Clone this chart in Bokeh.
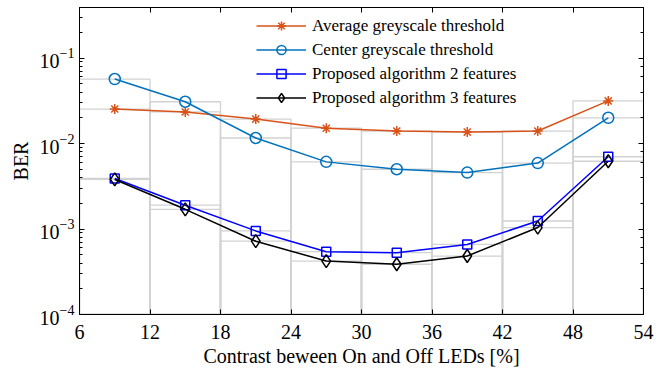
from bokeh.plotting import figure
from bokeh.models import (LogAxis, LinearAxis, Legend, LegendItem, LogTickFormatter,
                          FixedTicker, Range1d, ColumnDataSource)
from bokeh.embed import file_html
from bokeh.resources import INLINE

# ---- data ----
contrast = [9, 15, 21, 27, 33, 39, 45, 51]
avg_grey = [0.0253, 0.0234, 0.0193, 0.0151, 0.0140, 0.0136, 0.0140, 0.0315]
center_grey = [0.0568, 0.0308, 0.0116, 0.0061, 0.0050, 0.00457, 0.0059, 0.0200]
prop2 = [0.0039, 0.0019, 0.00095, 0.000543, 0.000528, 0.00066, 0.00124, 0.0070]
prop3 = [0.0038, 0.0017, 0.00072, 0.000422, 0.000387, 0.000483, 0.00104, 0.0062]
x_ticks = [6, 12, 18, 24, 30, 36, 42, 48, 54]
names = ["Average greyscale threshold", "Center greyscale threshold",
         "Proposed algorithm 2 features", "Proposed algorithm 3 features"]

FONT = "Liberation Serif"

p = figure(width=665, height=371, output_backend="svg", toolbar_location=None,
           y_axis_type="log", x_range=Range1d(6, 54), y_range=Range1d(1e-4, 0.39),
           min_border_left=79, min_border_right=22, min_border_top=7, min_border_bottom=57)
p.xgrid.visible = False
p.ygrid.visible = False
p.outline_line_color = "black"
p.outline_line_width = 1
p.background_fill_color = "white"

# background bars (outlined)
bar_width = 6
for vals in [avg_grey, center_grey, prop2, prop3]:
    p.vbar(x=contrast, width=bar_width, top=vals, bottom=1e-4,
           fill_color=None, line_color="#d2d2d2", line_width=1.3)

styles = [
    (avg_grey, "#D95319", "asterisk", 10),
    (center_grey, "#0072BD", "circle", 11),
    (prop2, "#0000FF", "square", 9),
    (prop3, "black", "diamond", 13),
]
items = []
for (vals, col, mk, sz), nm in zip(styles, names):
    src = ColumnDataSource(dict(x=contrast, y=vals))
    r1 = p.line("x", "y", source=src, line_color=col, line_width=1.5)
    r2 = p.scatter("x", "y", source=src, marker=mk, size=sz, line_color=col,
                   fill_color=None, line_width=1.5)
    items.append(LegendItem(label=nm, renderers=[r1, r2]))

legend = Legend(items=items, location=(177, 205), orientation="vertical",
                border_line_color=None, background_fill_alpha=0,
                padding=0, margin=0, spacing=1, glyph_width=50, glyph_height=23,
                label_height=23, label_standoff=6,
                label_text_font=FONT, label_text_font_size="17px", label_text_color="black")
p.add_layout(legend, "center")

xt = FixedTicker(ticks=x_ticks)
p.xaxis.ticker = xt
p.xaxis.axis_label = "Contrast beween On and Off LEDs [%]"
p.yaxis.axis_label = "BER"
p.yaxis.formatter = LogTickFormatter()

for ax in [p.xaxis[0], p.yaxis[0]]:
    ax.major_tick_in = 5
    ax.major_tick_out = 0
    ax.minor_tick_in = 3
    ax.minor_tick_out = 0
    ax.axis_line_color = "black"
    ax.major_tick_line_color = "black"
    ax.minor_tick_line_color = "black"
    ax.major_label_text_font = FONT
    ax.major_label_text_font_size = "20px"
    ax.major_label_text_color = "black"
    ax.axis_label_text_font = FONT
    ax.axis_label_text_font_size = "20px"
    ax.axis_label_text_font_style = "normal"
    ax.axis_label_text_color = "black"
p.xaxis.major_label_standoff = 10
p.yaxis.major_label_standoff = 5
p.xaxis.axis_label_standoff = 3
p.yaxis.axis_label_standoff = 5

top = LinearAxis(ticker=xt, major_label_text_color=None,
                 major_tick_in=5, major_tick_out=0,
                 minor_tick_line_color=None, axis_line_color="black")
p.add_layout(top, "above")
right = LogAxis(major_label_text_color=None,
                major_tick_in=5, major_tick_out=0,
                minor_tick_in=3, minor_tick_out=0, axis_line_color="black")
p.add_layout(right, "right")

open("out.html", "w").write(file_html(p, INLINE))
